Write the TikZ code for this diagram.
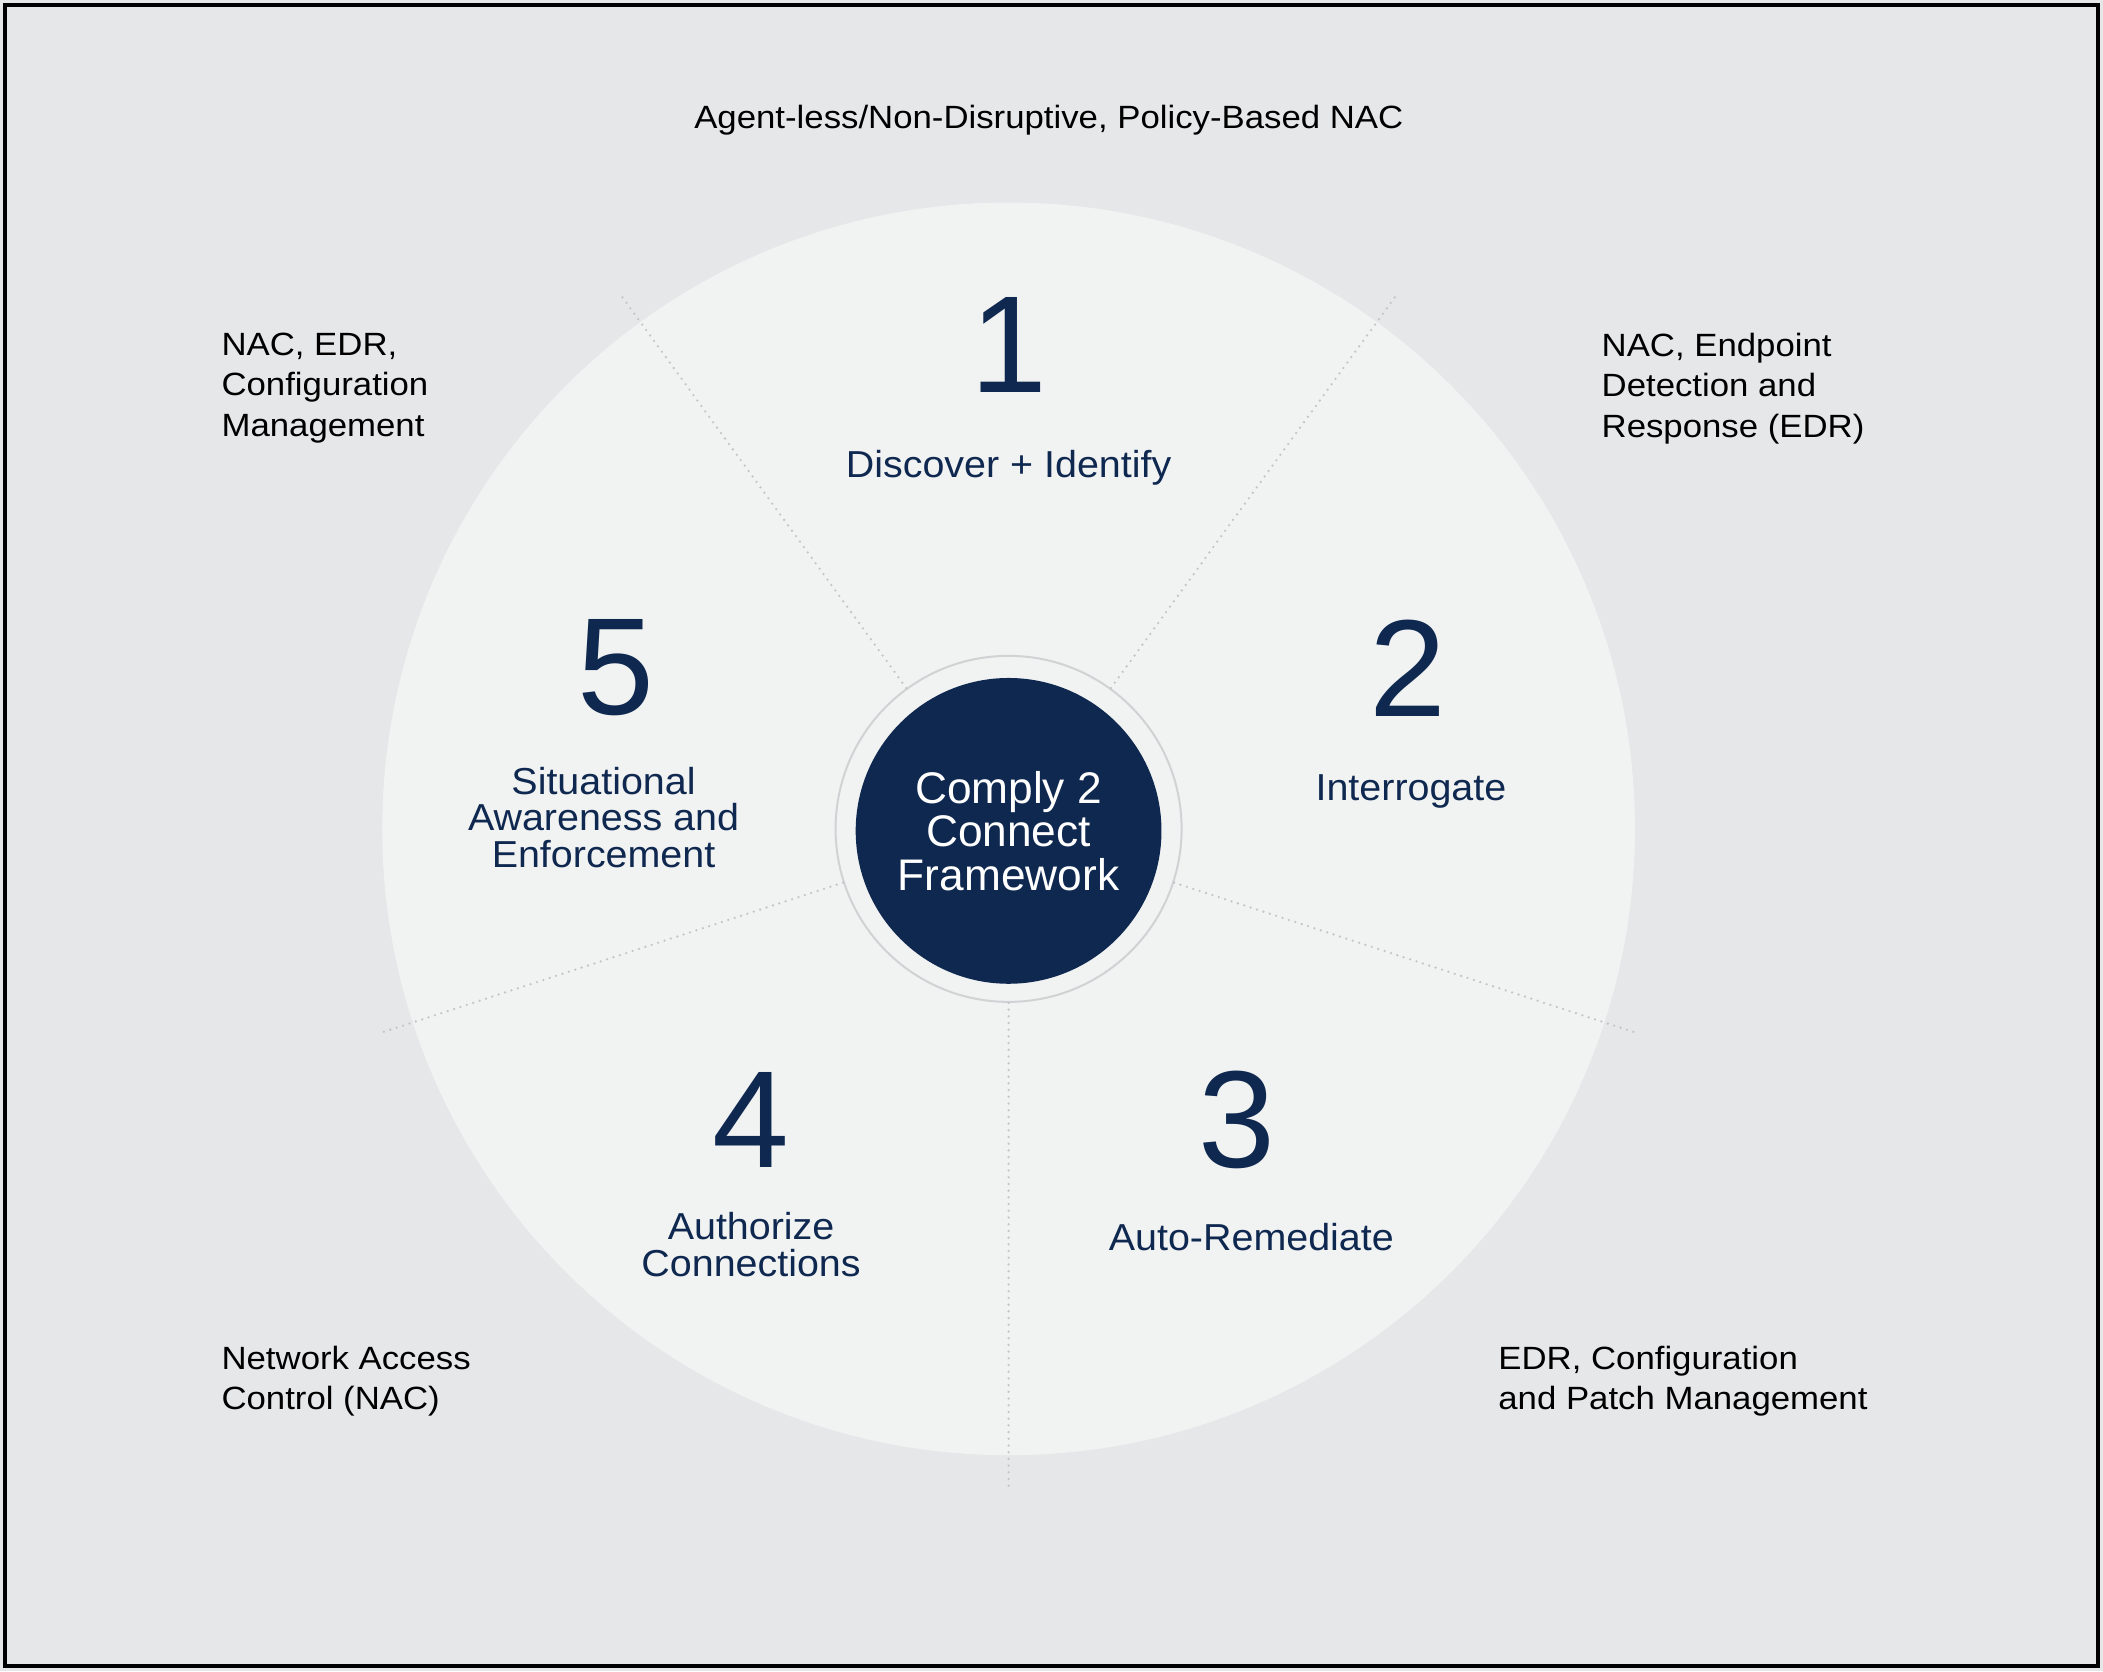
\documentclass[tikz,border=0pt]{standalone}
\usepackage{fontspec}
\setmainfont{Liberation Sans}
\newfontfamily\notafont[FakeStretch=1.08]{Liberation Sans}
\newfontfamily\fasefont[FakeStretch=1.05]{Liberation Sans}
\usepackage{tikz}
\usetikzlibrary{calc}
\definecolor{sfondo}{HTML}{E6E7E8}
\definecolor{disco}{HTML}{F1F2F2}
\definecolor{blu}{HTML}{0F2850}
\definecolor{puntini}{HTML}{C4C5C7}
\definecolor{grigioanello}{HTML}{D1D2D4}

\begin{document}
\begin{tikzpicture}[x=1pt,y=-1pt,
  numero/.style={text=blu,font=\fontsize{103}{103}\selectfont,inner sep=0pt},
  fase/.style={text=blu,font=\fasefont\fontsize{28}{27.5}\selectfont,align=center,inner sep=0pt},
  nota/.style={text=black,font=\notafont\fontsize{24}{30}\selectfont,align=left,inner sep=0pt,anchor=north west},
  divisore/.style={draw=puntini,line width=1.9,dash pattern=on 0pt off 5pt,line cap=round}]

  \fill[sfondo] (0,0) rectangle (1568,1246);%lo sfondo
  \useasboundingbox (0,0) rectangle (1568,1246);
  \draw[line width=3] (3.7,3.7) rectangle (1564.3,1242.3);%la cornice
  \coordinate (c) at (752,618);%il centro del disco
  \fill[disco] (c) circle (467);%il disco grande
  \node[circle,draw=grigioanello,fill=disco,line width=1.5,minimum size=258,inner sep=0pt] (anello) at (c) {};%l'anello
  \foreach \b in {-90,-18,54,126,198}
    \draw[divisore] (anello.\b) -- ($(anello.center)!3.8!(anello.\b)$);%i settori
  \node[circle,fill=blu,minimum size=228,inner sep=0pt,text=white,align=center,
    font=\fontsize{33}{32.5}\selectfont] (centro) at (752,619.5) {Comply 2\\Connect\\Framework};%il cerchio centrale

  \node[numero] (n1) at (752,257) {1};
  \node[numero] (n2) at (1050,498) {2};
  \node[numero] (n3) at (922,835) {3};
  \node[numero] (n4) at (560,835) {4};
  \node[numero] (n5) at (459,498) {5};
  \node[fase] (f1) at (752,349) {Discover + Identify};
  \node[fase] (f2) at (1052,590) {Interrogate};
  \node[fase] (f3) at (933,922) {Auto-Remediate};
  \node[fase] (f4) at (560,928) {Authorize\\Connections};
  \node[fase] (f5) at (450,609.5) {Situational\\Awareness and\\Enforcement};

  \node[nota,anchor=center] (t0) at (782,89.5) {Agent-less/Non-Disruptive, Policy-Based NAC};
  \node[nota] (t5) at (165,248.3) {NAC, EDR,\\Configuration\\Management};
  \node[nota] (t2) at (1194,248.3) {NAC, Endpoint\\Detection and\\Response (EDR)};
  \node[nota] (t4) at (165,1003.3) {Network Access\\Control (NAC)};
  \node[nota] (t3) at (1117,1003.3) {EDR, Configuration\\and Patch Management};
\end{tikzpicture}
\end{document}
